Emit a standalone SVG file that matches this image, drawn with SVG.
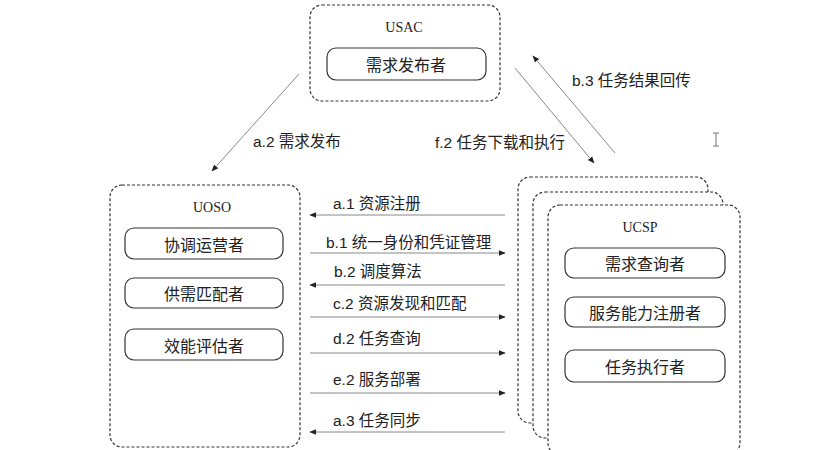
<svg xmlns="http://www.w3.org/2000/svg" width="820" height="450" viewBox="0 0 820 450">
<defs>
<marker id="ah" viewBox="0 0 10 10" refX="9" refY="5" markerWidth="7" markerHeight="7" orient="auto" markerUnits="userSpaceOnUse">
<path d="M0,1 L10,5 L0,9 Z" fill="#222"/>
</marker>
</defs>
<style>
.grp{fill:#fff;stroke:#333;stroke-width:1.2;stroke-dasharray:3 2}
.box{fill:#fff;stroke:#333;stroke-width:1.2}
.ttl{font-family:"Liberation Serif","Noto Sans CJK SC",serif;font-size:14px;fill:#222;text-anchor:middle}
.role{font-family:"Noto Sans CJK SC",sans-serif;font-size:16px;fill:#222;text-anchor:middle;dominant-baseline:central}
.lbl{font-family:"Liberation Sans","Noto Sans CJK SC",sans-serif;font-size:15.5px;fill:#222;dominant-baseline:central}
.cn{stroke:#888;stroke-width:1;fill:none;marker-end:url(#ah)}
</style>
<rect width="820" height="450" fill="#fff"/>

<g id="usac">
<rect class="grp" x="310" y="5" width="190" height="96" rx="12"/>
<text class="ttl" x="404" y="32">USAC</text>
<rect class="box" x="327" y="48" width="159" height="32" rx="9"/>
<text class="role" x="406" y="64">需求发布者</text>
</g>

<g id="uoso">
<rect class="grp" x="110" y="185" width="190" height="262" rx="12"/>
<text class="ttl" x="212" y="212">UOSO</text>
<rect class="box" x="125" y="228" width="158" height="31" rx="9"/>
<text class="role" x="204" y="243.5">协调运营者</text>
<rect class="box" x="125" y="278" width="158" height="30" rx="9"/>
<text class="role" x="204" y="293">供需匹配者</text>
<rect class="box" x="125" y="329" width="158" height="31" rx="9"/>
<text class="role" x="204" y="344.5">效能评估者</text>
</g>

<g id="ucsp">
<rect class="grp" x="518" y="177" width="190" height="246" rx="12"/>
<rect class="grp" x="533" y="192" width="190" height="246" rx="12"/>
<rect class="grp" x="548" y="205" width="192" height="250" rx="12"/>
<text class="ttl" x="640" y="232">UCSP</text>
<rect class="box" x="565" y="248" width="160" height="30" rx="9"/>
<text class="role" x="645" y="263">需求查询者</text>
<rect class="box" x="565" y="297" width="160" height="30" rx="9"/>
<text class="role" x="645" y="312">服务能力注册者</text>
<rect class="box" x="565" y="350" width="160" height="32" rx="9"/>
<text class="role" x="645" y="366">任务执行者</text>
</g>

<g id="connectors">
<line class="cn" x1="299" y1="74" x2="212" y2="171"/>
<line class="cn" x1="515" y1="68" x2="594" y2="163"/>
<line class="cn" x1="615" y1="153" x2="533" y2="56"/>
<line class="cn" x1="505" y1="215" x2="310" y2="215"/>
<line class="cn" x1="310" y1="253" x2="505" y2="253"/>
<line class="cn" x1="505" y1="285" x2="310" y2="285"/>
<line class="cn" x1="310" y1="317" x2="505" y2="317"/>
<line class="cn" x1="310" y1="353" x2="505" y2="353"/>
<line class="cn" x1="310" y1="393" x2="505" y2="393"/>
<line class="cn" x1="505" y1="432" x2="310" y2="432"/>
</g>

<g id="labels">
<text class="lbl" x="253" y="141">a.2 需求发布</text>
<text class="lbl" x="572" y="80">b.3 任务结果回传</text>
<text class="lbl" x="435" y="142">f.2 任务下载和执行</text>
<text class="lbl" x="333" y="203">a.1 资源注册</text>
<text class="lbl" x="326" y="242">b.1 统一身份和凭证管理</text>
<text class="lbl" x="334" y="271">b.2 调度算法</text>
<text class="lbl" x="333" y="303">c.2 资源发现和匹配</text>
<text class="lbl" x="333" y="338">d.2 任务查询</text>
<text class="lbl" x="333" y="379">e.2 服务部署</text>
<text class="lbl" x="333" y="420">a.3 任务同步</text>
</g>

<path d="M713,133 H719 M716,133 V146 M713,146 H719" stroke="#777" stroke-width="1" fill="none"/>
</svg>
